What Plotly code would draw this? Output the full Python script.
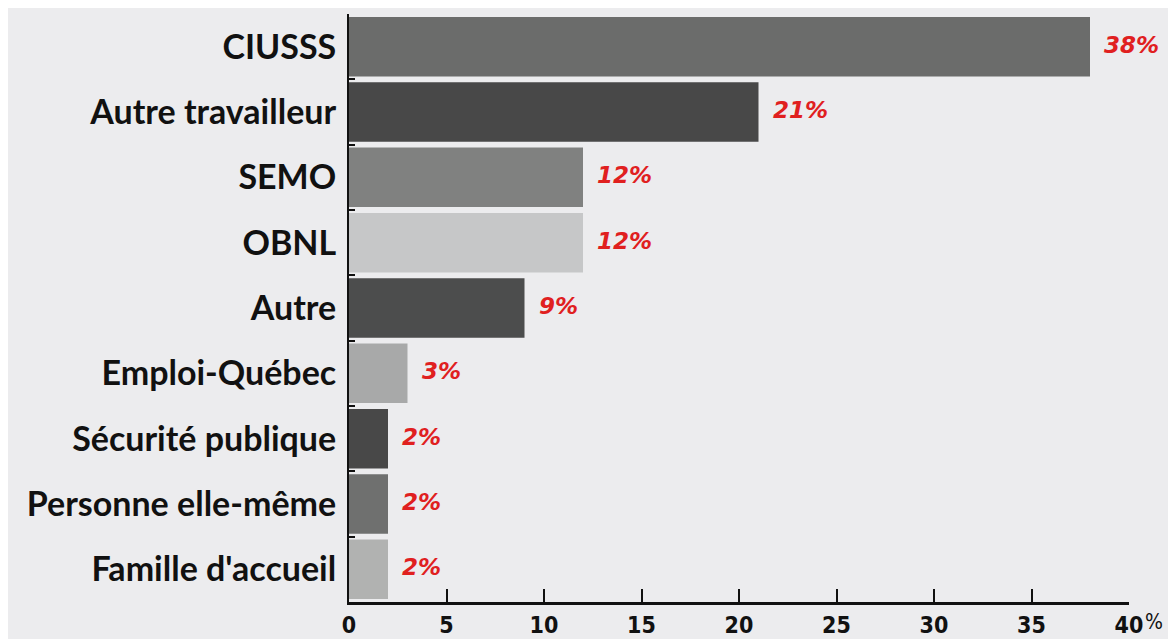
import plotly.graph_objects as go

categories = ["CIUSSS", "Autre travailleur", "SEMO", "OBNL", "Autre",
              "Emploi-Québec", "Sécurité publique", "Personne elle-même", "Famille d'accueil"]
values = [38, 21, 12, 12, 9, 3, 2, 2, 2]
labels = ["38%", "21%", "12%", "12%", "9%", "3%", "2%", "2%", "2%"]
colors = ["#6b6c6b", "#484848", "#808180", "#c6c7c8", "#4c4d4d",
          "#a8a9a9", "#484848", "#6f706f", "#b1b2b1"]
x_ticks = [0, 5, 10, 15, 20, 25, 30, 35, 40]

fig = go.Figure()
fig.add_trace(go.Bar(
    y=categories, x=values, orientation="h",
    marker=dict(color=colors, line=dict(width=0)),
    hoverinfo="skip",
))

for c, v, t in zip(categories, values, labels):
    fig.add_annotation(x=v, y=c, text=t, showarrow=False, xanchor="left",
                       xshift=12, yshift=2,
                       font=dict(family="DejaVu Sans", size=23, color="#e0201f", weight="bold",
                                 style="italic"))

fig.add_annotation(xref="paper", yref="paper", x=1.0, y=0, yshift=-20, xshift=14,
                   text="%", showarrow=False, xanchor="left", yanchor="middle",
                   font=dict(family="Liberation Sans Narrow, DejaVu Sans Condensed", size=21, color="#111"))

fig.update_layout(
    width=1176, height=639,
    paper_bgcolor="#ececee", plot_bgcolor="#ececee",
    margin=dict(l=341, r=55, t=6, b=45),
    bargap=0.09,
    showlegend=False,
    xaxis=dict(range=[0, 40], tickvals=x_ticks, ticktext=[str(v) for v in x_ticks],
               showgrid=False, zeroline=False, showline=True, linecolor="#111", linewidth=3,
               ticks="inside", ticklen=13, tickwidth=2, tickcolor="#111",
               tickfont=dict(family="Liberation Sans Narrow, DejaVu Sans Condensed", size=23, color="#111",
                             weight="bold"),
               ticklabelstandoff=0, automargin=False, fixedrange=True),
    yaxis=dict(categoryorder="array", categoryarray=categories[::-1],
               autorange=False, range=[-0.5, len(categories) - 0.5],
               showgrid=False, zeroline=False, showline=True, linecolor="#111", linewidth=2,
               ticks="inside", tickson="boundaries", ticklen=6, tickwidth=2, tickcolor="#111",
               ticklabelstandoff=4, automargin=False,
               tickfont=dict(family="Lato, DejaVu Sans", size=34, color="#111", weight="bold"),
               fixedrange=True),
)

fig.write_html("out.html")
